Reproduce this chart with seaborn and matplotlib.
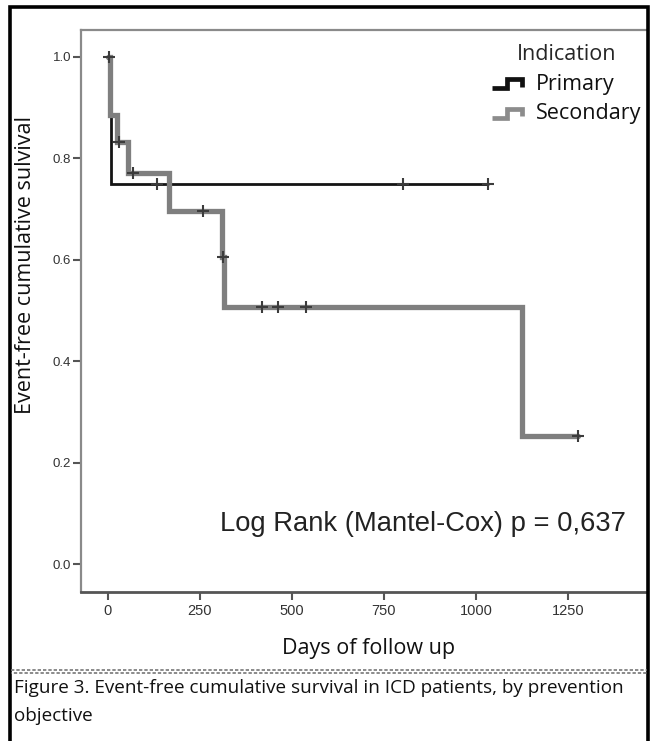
import numpy as np
import pandas as pd
import matplotlib
matplotlib.use('Agg')
import matplotlib.pyplot as plt
import seaborn as sns
from matplotlib.lines import Line2D
from matplotlib.patches import Rectangle
from matplotlib.legend_handler import HandlerBase

sns.set_theme(style='white')
plt.rcParams['font.family'] = ['Open Sans', 'DejaVu Sans']

# step points (time in days, survival)
primary_days = [0, 8, 1033]
primary_surv = [1.0, 0.749, 0.749]
secondary_days = [0, 5, 24, 54, 166, 310, 315, 1125, 1277]
secondary_surv = [1.0, 0.886, 0.832, 0.771, 0.696, 0.606, 0.507, 0.252, 0.252]

# censored cases (+ marks)
primary_cens_days = [133, 802, 1033]
primary_cens_surv = [0.749, 0.749, 0.749]
secondary_cens_days = [2, 30, 68, 258, 312, 418, 462, 538, 1277]
secondary_cens_surv = [1.0, 0.832, 0.771, 0.696, 0.606, 0.507, 0.507, 0.507, 0.252]

groups = ['Primary', 'Secondary']
colors = {'Primary': '#141414', 'Secondary': '#7f7f7f'}
widths = {'Primary': 2.0, 'Secondary': 3.8}

curves = pd.concat([
    pd.DataFrame({'days': primary_days, 'surv': primary_surv, 'group': 'Primary'}),
    pd.DataFrame({'days': secondary_days, 'surv': secondary_surv, 'group': 'Secondary'}),
])
cens = pd.concat([
    pd.DataFrame({'days': primary_cens_days, 'surv': primary_cens_surv, 'group': 'Primary'}),
    pd.DataFrame({'days': secondary_cens_days, 'surv': secondary_cens_surv, 'group': 'Secondary'}),
])


class StepHandler(HandlerBase):
    # little step icon like the SPSS survival legend
    def create_artists(self, legend, orig_handle, xdescent, ydescent,
                       width, height, fontsize, trans):
        x0, y0 = -xdescent, -ydescent
        xs = [x0, x0 + 0.5 * width, x0 + 0.5 * width, x0 + width, x0 + width]
        ys = [y0 + 0.1 * height, y0 + 0.1 * height, y0 + 0.7 * height,
              y0 + 0.7 * height, y0 + 0.2 * height]
        ln = Line2D(xs, ys, color=orig_handle.get_color(), lw=3.4,
                    solid_joinstyle='miter', solid_capstyle='butt', transform=trans)
        return [ln]


fig = plt.figure(figsize=(6.52, 7.41), dpi=100)
ax = fig.add_axes([81 / 652, 1 - 592 / 741, 566 / 652, 562 / 741])

sns.lineplot(data=curves, x='days', y='surv', hue='group', size='group',
             hue_order=groups, size_order=groups, palette=colors, sizes=widths,
             estimator=None, sort=False, drawstyle='steps-post', legend=False,
             solid_joinstyle='miter', ax=ax)
sns.scatterplot(data=cens, x='days', y='surv', marker='+', color='#3c3c3c',
                s=70, linewidth=1.5, legend=False, zorder=5, ax=ax)

ax.set_xlim(-73, 1465)
ax.set_ylim(-0.055, 1.053)
ax.set_xticks([0, 250, 500, 750, 1000, 1250])
ax.set_yticks([0.0, 0.2, 0.4, 0.6, 0.8, 1.0])
ax.set_yticklabels(['0.0', '0.2', '0.4', '0.6', '0.8', '1.0'])

for lab in ax.get_xticklabels():
    lab.set_fontfamily('Liberation Sans')
    lab.set_fontsize(10.5)
    lab.set_color('#333333')
for lab in ax.get_yticklabels():
    lab.set_fontfamily('Liberation Sans')
    lab.set_fontsize(9.5)
    lab.set_color('#333333')
ax.tick_params(axis='x', direction='out', length=6, width=1.5, color='#555555', pad=2.5, bottom=True)
ax.tick_params(axis='y', direction='out', length=6, width=1.5, color='#555555', pad=1, left=True)

ax.spines['right'].set_visible(False)
ax.spines['left'].set_color('#8a8a8a')
ax.spines['left'].set_linewidth(1.6)
ax.spines['top'].set_color('#8a8a8a')
ax.spines['top'].set_linewidth(1.6)
ax.spines['bottom'].set_color('#555555')
ax.spines['bottom'].set_linewidth(2.0)

ax.set_xlabel('Days of follow up', fontsize=15.5, color='#111111')
ax.set_ylabel('Event-free cumulative sulvival', fontsize=15.5, color='#111111')
ax.xaxis.set_label_coords((369 - 81) / 566, (592 - 638) / 562)
ax.yaxis.set_label_coords((36 - 81) / 566, (592 - 265) / 562)

ax.text(0.962, (592 - 524) / 562, 'Log Rank (Mantel-Cox) p = 0,637',
        transform=ax.transAxes, ha='right', va='center',
        fontsize=19.7, family='Liberation Sans', color='#222222')

handles = [Line2D([], [], color='#111111'), Line2D([], [], color='#8c8c8c')]
leg = ax.legend(handles, groups, title='Indication', loc='upper left',
                bbox_to_anchor=((492 - 81) / 566, (592 - 44) / 562),
                frameon=False, fontsize=15.5, title_fontsize=15.5,
                handlelength=1.4, handletextpad=0.65, labelspacing=0.4,
                borderpad=0, borderaxespad=0,
                handler_map={Line2D: StepHandler()})
for t in leg.get_texts():
    t.set_color('#111111')

# outer frame and caption
fig.add_artist(Rectangle((10 / 652, -0.05), 638 / 652, 1.05 - 7 / 741,
                         transform=fig.transFigure, fill=False,
                         edgecolor='black', lw=2.6, clip_on=False))
fig.add_artist(Line2D([11 / 652, 647 / 652], [1 - 670 / 741] * 2,
                      transform=fig.transFigure, color='#777777', lw=1.2,
                      linestyle=(0, (2, 1.2))))
fig.add_artist(Line2D([11 / 652, 647 / 652], [1 - 672.5 / 741] * 2,
                      transform=fig.transFigure, color='#777777', lw=1.2,
                      linestyle=(1.5, (2, 1.2))))
fig.text(14 / 652, 1 - 688 / 741,
         'Figure 3. Event-free cumulative survival in ICD patients, by prevention',
         ha='left', va='center', fontsize=13.6, color='#111111')
fig.text(14 / 652, 1 - 716 / 741, 'objective',
         ha='left', va='center', fontsize=13.6, color='#111111')

fig.savefig('out.png', dpi=100)
